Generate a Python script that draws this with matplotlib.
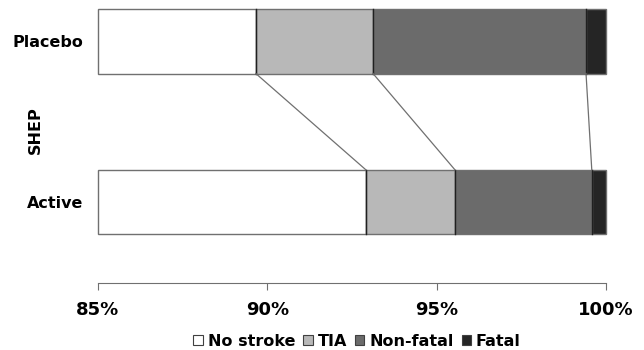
import numpy as np
import matplotlib.pyplot as plt
from matplotlib.patches import Patch

groups = ['Active', 'Placebo']
categories = ['No stroke', 'TIA', 'Non-fatal', 'Fatal']
colors = ['#ffffff', '#b8b8b8', '#6b6b6b', '#252525']
# percent of patients per outcome
placebo = [89.66, 3.46, 6.29, 0.59]
active = [92.91, 2.63, 4.04, 0.42]
ticks = [85, 90, 95, 100]
tick_labels = ['85%', '90%', '95%', '100%']

xmin, xmax = 85, 100
bar_h = 0.4

plt.rcParams['font.family'] = 'DejaVu Sans'
plt.rcParams['font.weight'] = 'bold'

fig = plt.figure(figsize=(6.44, 3.5), dpi=100)
ax = fig.add_axes([98 / 644, 67 / 350, 508 / 644, 283 / 350])

data = {'Active': active, 'Placebo': placebo}
for yi, g in enumerate(groups):
    vals = np.array(data[g])
    ends = np.cumsum(vals)
    starts = ends - vals
    starts[0] = xmin
    for j in range(len(vals)):
        ax.barh(yi, ends[j] - starts[j], left=starts[j], height=bar_h,
                color=colors[j], edgecolor='#707070', linewidth=1.0, clip_on=False)
    # darker separators between segments
    for j in range(1, len(vals)):
        ax.plot([starts[j], starts[j]], [yi - bar_h / 2, yi + bar_h / 2],
                color='#202020', lw=1.0)

# connector lines between boundaries of the two bars
pc = np.cumsum(placebo)
ac = np.cumsum(active)
for j in range(3):
    ax.plot([pc[j], ac[j]], [1 - bar_h / 2, 0 + bar_h / 2], color='#707070', lw=0.9)

ax.set_xlim(xmin, xmax)
ax.set_ylim(-0.505, 1.258)
ax.set_xticks(ticks)
ax.set_xticklabels(tick_labels, fontsize=13, fontweight='bold')
ax.set_yticks([0, 1])
ax.set_yticklabels(groups, fontsize=11.5, fontweight='bold')
ax.tick_params(axis='y', length=0, pad=10.5)
ax.tick_params(axis='x', length=5, color='#707070', pad=8)
for s in ['top', 'right', 'left']:
    ax.spines[s].set_visible(False)
ax.spines['bottom'].set_color('#707070')

fig.text(35 / 644, 1 - 130 / 350, 'SHEP', rotation=90, fontsize=11.5,
         fontweight='bold', ha='center', va='center')

handles = [Patch(facecolor=c, edgecolor='#404040', linewidth=0.8) for c in colors]
fig.legend(handles, categories, loc='center', bbox_to_anchor=(357 / 644, 1 - 341 / 350),
           ncol=4, frameon=False, handlelength=0.6, handleheight=0.6,
           handletextpad=0.3, columnspacing=0.5, borderpad=0,
           prop={'weight': 'bold', 'size': 11.5})

fig.savefig('out.png', dpi=100)
